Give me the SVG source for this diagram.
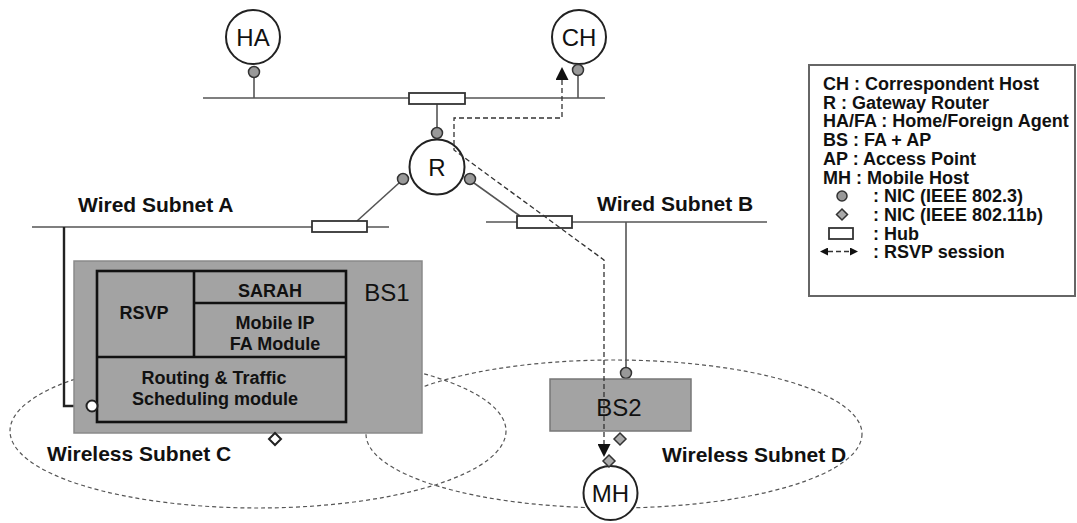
<svg xmlns="http://www.w3.org/2000/svg" width="1077" height="523" viewBox="0 0 1077 523">
<style>
  .bus{stroke:#555;stroke-width:1.5;fill:none}
  .link{stroke:#555;stroke-width:1.6;fill:none}
  .thick{stroke:#222;stroke-width:2.4;fill:none}
  .hub{fill:#fff;stroke:#333;stroke-width:1.8}
  .host{fill:#fff;stroke:#222;stroke-width:2}
  .nic{fill:#999;stroke:#333;stroke-width:1.5}
  .dia{fill:#aaa;stroke:#333;stroke-width:1.5}
  .cell{fill:none;stroke:#555;stroke-width:1.2;stroke-dasharray:4 3}
  .rsvp{fill:none;stroke:#333;stroke-width:1.3;stroke-dasharray:5 3}
  .hl{font-family:"Liberation Sans",Arial,sans-serif;font-size:24px;fill:#111;text-anchor:middle}
  .lbl{font-family:"Liberation Sans",Arial,sans-serif;font-size:21px;font-weight:bold;fill:#111}
  .mod{font-family:"Liberation Sans",Arial,sans-serif;font-size:18px;font-weight:bold;fill:#111;text-anchor:middle}
  .leg{font-family:"Liberation Sans",Arial,sans-serif;font-size:18px;font-weight:bold;fill:#111}
</style>
<defs>
  <marker id="ah" viewBox="0 0 13 13" refX="0" refY="6.5" markerWidth="13" markerHeight="13" markerUnits="userSpaceOnUse" orient="auto-start-reverse">
    <path d="M0,0 L13,6.5 L0,13 z" fill="#111"/>
  </marker>
  <marker id="ahs" viewBox="0 0 8 8" refX="0" refY="4" markerWidth="8" markerHeight="8" markerUnits="userSpaceOnUse" orient="auto-start-reverse">
    <path d="M0,0 L8,4 L0,8 z" fill="#111"/>
  </marker>
</defs>

<!-- wireless cells -->
<g id="cells">
  <ellipse class="cell" cx="258" cy="431" rx="248" ry="77"/>
  <ellipse class="cell" cx="614" cy="434" rx="248" ry="74"/>
</g>

<!-- wired buses -->
<g id="buses">
  <line class="bus" x1="203" y1="98" x2="605" y2="98"/>
  <line class="bus" x1="32" y1="227" x2="389" y2="227"/>
  <line class="bus" x1="486" y1="222" x2="767" y2="222"/>
</g>

<g id="connectors">
  <line class="link" x1="254" y1="77.5" x2="254" y2="98"/>
  <line class="link" x1="578" y1="75.5" x2="578" y2="98"/>
  <line class="link" x1="437" y1="104" x2="437" y2="127.5"/>
  <line class="link" x1="399" y1="183" x2="357" y2="221"/>
  <line class="link" x1="474" y1="183" x2="520" y2="216"/>
  <line class="link" x1="626" y1="222" x2="626" y2="367.5"/>
  <path class="thick" d="M64,227 V406 H86.5"/>
  <line class="thick" x1="275" y1="422" x2="275" y2="433"/>
</g>

<g id="hub-top"><rect class="hub" x="409" y="93" width="56" height="11"/></g>
<g id="hub-a"><rect class="hub" x="312" y="221" width="55" height="11"/></g>
<g id="hub-b"><rect class="hub" x="517" y="216" width="55" height="12"/></g>

<g id="HA">
  <circle class="host" cx="253" cy="37" r="27"/>
  <text class="hl" x="253" y="45.5">HA</text>
  <circle class="nic" cx="254" cy="72" r="5.5"/>
</g>
<g id="CH">
  <circle class="host" cx="579" cy="37" r="27"/>
  <text class="hl" x="579" y="45.5">CH</text>
  <circle class="nic" cx="578" cy="70" r="5.5"/>
</g>
<g id="R">
  <circle class="host" cx="437" cy="167" r="27.5"/>
  <text class="hl" x="437" y="176">R</text>
  <circle class="nic" cx="437" cy="133" r="5.5"/>
  <circle class="nic" cx="403" cy="179" r="5.5"/>
  <circle class="nic" cx="470" cy="179" r="5.5"/>
</g>

<g id="BS1">
  <rect x="74" y="261" width="348" height="172" fill="#a3a3a3" stroke="#8a8a8a" stroke-width="1.5"/>
  <rect x="97" y="271" width="249" height="151" fill="none" stroke="#111" stroke-width="2.6"/>
  <line x1="194" y1="271" x2="194" y2="357" stroke="#111" stroke-width="2.6"/>
  <line x1="194" y1="303" x2="346" y2="303" stroke="#111" stroke-width="2.6"/>
  <line x1="97" y1="357" x2="346" y2="357" stroke="#111" stroke-width="2.6"/>
  <text class="mod" x="270" y="296.5">SARAH</text>
  <text class="mod" x="144" y="318.5">RSVP</text>
  <text class="mod" x="275" y="328.5">Mobile IP</text>
  <text class="mod" x="275" y="349.5">FA Module</text>
  <text class="mod" x="214" y="383.5">Routing &amp; Traffic</text>
  <text class="mod" x="215" y="404.5">Scheduling module</text>
  <text class="hl" x="387" y="300.5">BS1</text>
  <circle cx="92" cy="406" r="5.5" fill="#fff" stroke="#222" stroke-width="2"/>
  <path d="M275,433 L281,439 L275,445 L269,439 z" fill="#fff" stroke="#222" stroke-width="2"/>
</g>

<g id="BS2">
  <circle class="nic" cx="626" cy="373" r="5.5"/>
  <rect x="550" y="379" width="141" height="52" fill="#a3a3a3" stroke="#777" stroke-width="1.5"/>
  <text class="hl" x="619" y="415.5">BS2</text>
  <path class="dia" d="M620,433 L626,439 L620,445 L614,439 z"/>
</g>

<g id="MH">
  <circle class="host" cx="610.5" cy="493" r="27"/>
  <text class="hl" x="610.5" y="501.5">MH</text>
  <path class="dia" d="M609,455 L615,461 L609,467 L603,461 z"/>
</g>

<g id="rsvp-session">
  <path class="rsvp" d="M562,80 V118 H454 V150 L604,260 V444" marker-start="url(#ah)" marker-end="url(#ah)"/>
</g>

<g id="labels">
  <text class="lbl" x="78" y="212">Wired Subnet A</text>
  <text class="lbl" x="597" y="211">Wired Subnet B</text>
  <text class="lbl" x="47" y="461">Wireless Subnet C</text>
  <text class="lbl" x="662" y="462">Wireless Subnet D</text>
</g>

<g id="legend">
  <rect x="809" y="65" width="266" height="231" fill="#fff" stroke="#666" stroke-width="2"/>
  <text class="leg" x="823" y="90">CH : Correspondent Host</text>
  <text class="leg" x="823" y="108.7">R : Gateway Router</text>
  <text class="leg" x="823" y="127.4">HA/FA : Home/Foreign Agent</text>
  <text class="leg" x="823" y="146.1">BS : FA + AP</text>
  <text class="leg" x="823" y="164.8">AP : Access Point</text>
  <text class="leg" x="823" y="183.5">MH : Mobile Host</text>
  <circle class="nic" cx="842" cy="196" r="5"/>
  <text class="leg" x="873" y="202.2">: NIC (IEEE 802.3)</text>
  <path class="dia" d="M842,209 L847.5,214.5 L842,220 L836.5,214.5 z"/>
  <text class="leg" x="873" y="220.9">: NIC (IEEE 802.11b)</text>
  <rect class="hub" x="829" y="228" width="24" height="11"/>
  <text class="leg" x="873" y="239.6">: Hub</text>
  <path class="rsvp" d="M828,251.5 H850" stroke-dasharray="3 2.5" marker-start="url(#ahs)" marker-end="url(#ahs)"/>
  <text class="leg" x="873" y="258.3">: RSVP session</text>
</g>
</svg>
